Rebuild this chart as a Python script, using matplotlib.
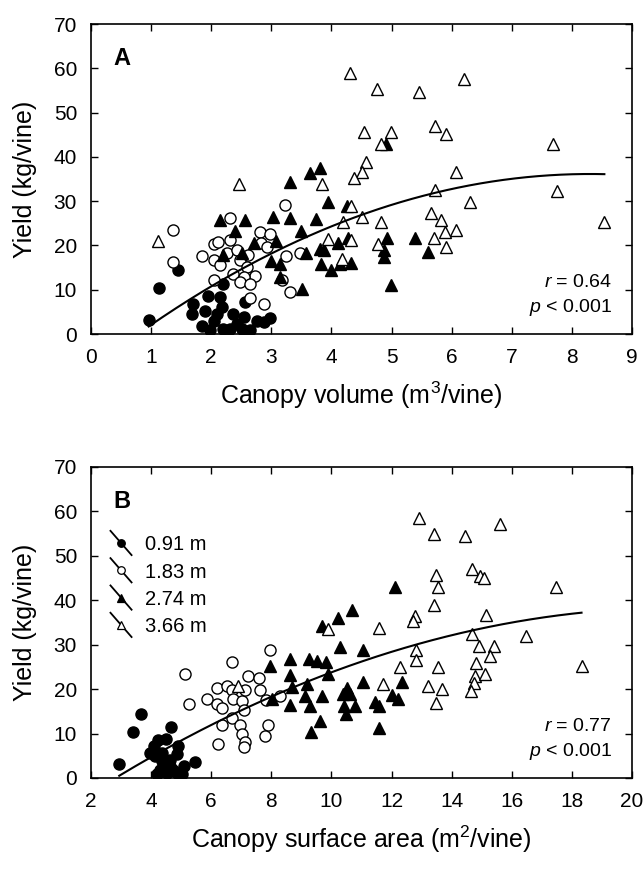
import numpy as np
import matplotlib.pyplot as plt

# ---- panel A: canopy volume (m3/vine) vs yield (kg/vine) ----
a_091_x = [0.97, 1.13, 1.44, 2.2, 2.57, 1.7, 1.68, 1.95, 2.15, 2.18, 1.9, 1.84, 2.04, 2.2, 2.37,
           2.43, 2.54, 2.65, 2.76, 2.98, 2.87, 1.98, 2.32, 2.09, 2.51]
a_091_y = [3.2, 10.4, 14.4, 11.2, 7.2, 6.8, 4.5, 8.5, 8.3, 6.0, 5.3, 1.9, 3.0, 1.1, 4.5,
           2.3, 3.8, 0.8, 3.0, 3.6, 2.7, 0.8, 1.1, 4.5, 1.1]

a_183_x = [1.37, 1.37, 2.31, 2.04, 2.11, 2.31, 1.84, 2.04, 2.15, 2.26, 2.43, 2.48, 2.62, 2.37, 2.6,
           2.73, 2.54, 2.48, 2.65, 2.04, 2.81, 2.97, 2.82, 2.93, 3.23, 3.25, 3.47, 3.17, 3.31, 2.64, 2.87]
a_183_y = [23.5, 16.3, 26.3, 20.3, 20.8, 21.2, 17.6, 16.7, 15.5, 18.2, 18.9, 16.7, 17.8, 13.6, 15.2,
           13.0, 12.9, 11.7, 11.4, 12.3, 23.1, 22.5, 20.6, 19.7, 29.2, 17.6, 18.4, 12.1, 9.5, 8.1, 6.7]

a_274_x = [2.14, 2.57, 2.4, 3.31, 3.64, 3.81, 3.03, 3.31, 3.75, 3.94, 4.26, 3.5, 2.71, 3.07, 2.2,
           2.51, 3.0, 3.15, 3.58, 3.81, 3.87, 4.11, 4.27, 3.82, 4.0, 4.15, 4.32, 3.14, 3.51, 4.9,
           4.93, 5.39, 5.61, 4.87, 4.87, 4.99]
a_274_y = [25.8, 25.8, 23.3, 34.3, 36.4, 37.5, 26.5, 26.1, 26.0, 29.9, 28.8, 23.3, 20.6, 21.1, 17.8,
           18.3, 16.5, 15.9, 18.2, 19.1, 19.0, 20.6, 21.6, 15.9, 14.4, 15.8, 16.1, 12.9, 10.2, 42.8,
           21.6, 21.6, 18.6, 17.4, 18.9, 11.0]

a_366_x = [1.11, 2.47, 4.31, 4.54, 4.58, 4.5, 4.37, 3.84, 4.32, 4.5, 4.2, 3.94, 4.33, 4.18,
           4.76, 5.45, 6.2, 4.99, 4.82, 5.72, 5.91, 6.07, 7.68, 7.75, 5.72, 6.31, 4.82, 5.65,
           5.82, 5.89, 6.07, 5.71, 4.78, 5.91, 8.54]
a_366_y = [21.1, 33.9, 58.9, 45.7, 38.9, 36.5, 35.2, 33.9, 28.9, 26.5, 25.4, 21.4, 21.2, 17.0,
           55.3, 54.7, 57.6, 45.6, 42.8, 47.0, 45.1, 36.5, 43.0, 32.2, 32.6, 29.9, 25.4, 27.4,
           25.8, 23.1, 23.5, 21.6, 20.3, 19.7, 25.2]

# ---- panel B: canopy surface area (m2/vine) vs yield ----
b_091_x = [2.94, 3.41, 3.66, 4.67, 4.08, 4.24, 4.5, 4.91, 4.13, 4.36, 4.63, 4.86, 5.47, 4.3, 4.52,
           4.74, 5.08, 5.02, 4.19, 4.63, 3.97, 4.36, 4.86]
b_091_y = [3.2, 10.3, 14.3, 11.4, 7.1, 8.6, 8.8, 7.3, 4.9, 5.6, 4.1, 5.3, 3.5, 1.9, 1.1,
           1.9, 2.6, 0.8, 0.8, 2.6, 5.6, 3.8, 1.1]

b_183_x = [5.13, 5.27, 6.69, 7.97, 5.86, 6.19, 6.19, 6.36, 6.52, 6.69, 6.74, 7.02, 7.13, 7.24, 7.58,
           7.61, 7.83, 8.28, 7.08, 6.69, 6.36, 6.97, 7.02, 7.13, 7.08, 6.22, 7.88, 7.8]
b_183_y = [23.3, 16.7, 26.2, 28.8, 17.7, 20.3, 16.7, 15.8, 20.7, 19.9, 17.7, 17.3, 19.9, 22.9, 22.6,
           19.9, 17.5, 18.4, 15.4, 13.5, 12.0, 12.0, 9.8, 8.0, 7.0, 7.7, 12.0, 9.5]

b_274_x = [7.94, 8.02, 8.63, 8.61, 8.69, 8.61, 9.24, 9.52, 9.83, 9.88, 9.17, 9.13, 9.27, 9.69, 9.63,
           9.32, 10.21, 10.67, 10.28, 11.06, 10.52, 10.39, 10.61, 10.41, 10.8, 10.47, 11.06, 9.69,
           12.12, 12.34, 11.45, 11.59, 12.03, 12.22, 11.59]
b_274_y = [25.3, 17.8, 26.8, 23.1, 20.5, 16.5, 26.7, 26.3, 26.1, 23.3, 21.1, 18.4, 16.2, 18.4, 12.8,
           10.3, 36.1, 37.8, 29.5, 28.8, 20.3, 18.8, 18.8, 16.2, 16.2, 14.3, 21.6, 34.2,
           42.9, 21.6, 17.1, 16.2, 18.6, 17.7, 11.3]

b_366_x = [6.89, 9.88, 12.92, 13.42, 14.45, 15.61, 14.67, 13.48, 14.94, 15.07, 13.53, 17.48, 13.42,
           15.14, 12.78, 12.72, 11.59, 14.67, 16.48, 14.92, 15.41, 12.81, 15.27, 12.81, 12.28, 13.53,
           14.81, 18.32, 14.77, 15.1, 11.7, 13.2, 13.68, 14.74, 14.63, 13.48]
b_366_y = [20.8, 33.6, 58.4, 54.9, 54.4, 57.1, 47.0, 45.6, 45.5, 45.1, 42.9, 42.9, 38.9,
           36.6, 36.5, 35.3, 33.8, 32.3, 32.0, 29.7, 29.7, 28.7, 27.4, 26.5, 25.0, 25.0,
           25.8, 25.2, 22.9, 23.3, 21.1, 20.8, 20.1, 21.4, 19.5, 16.9]

# quadratic fits (c0, c1, c2) and their x span
fit_a = [-7.89, 10.604, -0.6385]
fit_a_span = [0.96, 8.54]
fit_b = [-12.41, 4.714, -0.1095]
fit_b_span = [2.94, 18.32]

legend_labels = ['0.91 m', '1.83 m', '2.74 m', '3.66 m']

plt.rcParams['font.family'] = ['Liberation Sans', 'DejaVu Sans']
plt.rcParams['mathtext.fontset'] = 'custom'
plt.rcParams['mathtext.rm'] = 'Liberation Sans'
plt.rcParams['mathtext.it'] = 'Liberation Sans:italic'

styles = [
    dict(marker='o', ms=8, mfc='black', mec='black'),
    dict(marker='o', ms=8, mfc='white', mec='black'),
    dict(marker='^', ms=9, mfc='black', mec='black'),
    dict(marker='^', ms=9, mfc='white', mec='black'),
]


def panel(ax, series, fit, span, letter, r_txt, xlim, xticks, xlabel):
    for (x, y), st in zip(series, styles):
        ax.plot(x, y, ls='none', mew=1.0, **st)
    xs = np.linspace(span[0], span[1], 200)
    ax.plot(xs, np.polyval(fit[::-1], xs), color='black', lw=1.5, zorder=5)

    ax.set_xlim(*xlim)
    ax.set_ylim(0, 70)
    ax.set_xticks(xticks)
    ax.set_yticks(range(0, 71, 10))
    ax.tick_params(direction='in', length=5, width=1, top=True, right=True,
                   labelsize=15, pad=10)
    for s in ax.spines.values():
        s.set_linewidth(1.2)
    ax.set_xlabel(xlabel, fontsize=18, labelpad=9)
    ax.set_ylabel('Yield (kg/vine)', fontsize=18, labelpad=12)

    ax.text(0.057, 0.89, letter, transform=ax.transAxes, fontsize=17,
            fontweight='bold', ha='center', va='center')
    ax.text(0.963, 0.166, '$r$ = ' + r_txt, transform=ax.transAxes, fontsize=14,
            ha='right', va='center')
    ax.text(0.963, 0.086, '$p$ < 0.001', transform=ax.transAxes, fontsize=14,
            ha='right', va='center')


fig = plt.figure(figsize=(6.44, 8.71), dpi=100)
ax_a = fig.add_axes([0.1413, 0.6165, 0.8401, 0.3559])
ax_b = fig.add_axes([0.1413, 0.1068, 0.8401, 0.3571])

panel(ax_a, [(a_091_x, a_091_y), (a_183_x, a_183_y), (a_274_x, a_274_y), (a_366_x, a_366_y)],
      fit_a, fit_a_span, 'A', '0.64', (0, 9), range(0, 10), 'Canopy volume (m$^3$/vine)')
panel(ax_b, [(b_091_x, b_091_y), (b_183_x, b_183_y), (b_274_x, b_274_y), (b_366_x, b_366_y)],
      fit_b, fit_b_span, 'B', '0.77', (2, 20), range(2, 21, 2), 'Canopy surface area (m$^2$/vine)')

# legend with slanted line through each symbol
step = 0.0878
for i, (lab, st) in enumerate(zip(legend_labels, styles)):
    y0 = 0.7556 - i * step
    ax_b.plot([0.036, 0.075], [y0 + 0.039, y0 - 0.039], color='black', lw=1.3,
              transform=ax_b.transAxes, zorder=6)
    small = dict(st, ms=st['ms'] * 0.68)
    ax_b.plot([0.0555], [y0], ls='none', mew=0.9, transform=ax_b.transAxes, zorder=7, **small)
    ax_b.text(0.0998, y0 - 0.006, lab, transform=ax_b.transAxes, fontsize=14.5,
              ha='left', va='center')

fig.savefig('out.png', dpi=100)
